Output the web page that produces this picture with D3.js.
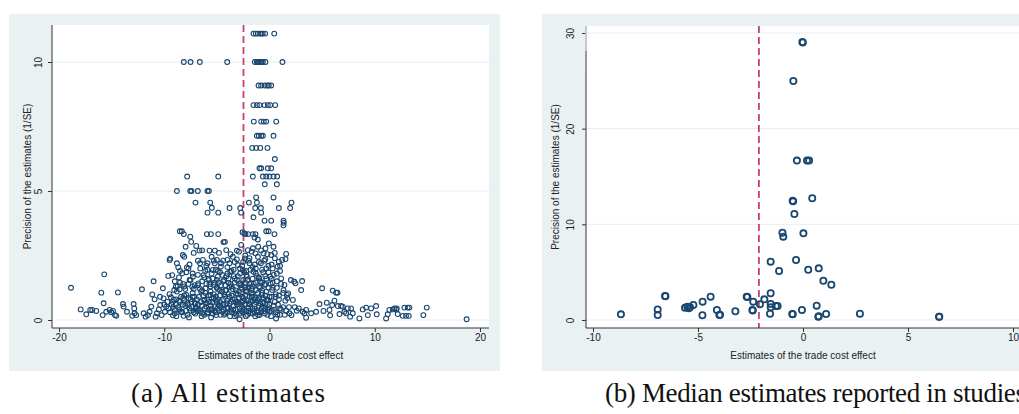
<!DOCTYPE html>
<html>
<head>
    <meta charset="utf-8">
    <title>Funnel plots</title>
    <script src="https://cdn.jsdelivr.net/npm/d3@7"></script>
    <style>
        body { margin: 0; background: #fff; }
        text { font-family: "Liberation Sans", Arial, sans-serif; }
    </style>
</head>
<body>
    <svg width="1019" height="414" id="mainSvg"></svg>
    <script>
        // (a) all estimates: [estimate, precision]
        const allEstimates = [
            // high-precision rows
            [-1.52,11.1],[-1.3,11.1],[-1.11,11.1],[-0.89,11.1],[-0.75,11.1],[-0.63,11.1],[-0.41,11.1],[0.45,11.1],
            [-8.14,10],[-7.5,10],[-6.62,10],[-4.02,10],[-1.39,10],[-1.2,10],[-1.11,10],[-1.0,10],[-0.85,10],[-0.75,10],[-0.63,10],[-0.38,10],[1.23,10],
            [-1.04,9.09],[-0.79,9.09],[-0.45,9.09],[-0.2,9.09],[-0.07,9.09],[0.16,9.09],
            [-1.52,8.33],[-1.2,8.33],[-0.95,8.33],[-0.47,8.33],[-0.16,8.33],[0.07,8.33],[0.54,8.33],
            [-1.49,7.69],[-0.79,7.69],[-0.54,7.69],[-0.31,7.69],[0.64,7.69],
            [-1.21,7.14],[-1.02,7.14],[-0.79,7.14],[-0.63,7.14],[0.38,7.14],
            [-1.64,6.67],[-1.26,6.67],[-0.88,6.67],[-0.19,6.67],
            [0.51,6.24],
            [-0.95,5.88],[-0.79,5.88],[-0.16,5.88],[0.16,5.88],
            [-7.82,5.56],[-4.87,5.56],[-1.58,5.56],[-0.63,5.56],[-0.31,5.56],[0,5.56],[0.38,5.56],[0.73,5.56],
            [-0.45,5.26],[0.7,5.26],
            [-8.8,5],[-7.53,5],[-7.41,5],[-6.81,5],[-5.89,5],[-5.76,5],
            // 3 to 5
            [-7.03,4.55],[-5.63,4.55],[-5.48,4.35],[-5.89,4.16],[-4.87,4.16],[-3.8,4.34],[-2.78,4.34],[-2.69,4.16],
            [-1.96,4.55],[-1.27,4.75],[-1.2,4.55],[-1.36,4.34],[-0.82,4.34],[-0.79,4.16],[-1.52,3.98],[-0.47,3.85],
            [0.16,3.85],[0.38,4.75],[0.89,4.34],[1.96,4.34],[2.09,4.55],[1.33,3.85],[1.35,3.77],[1.33,3.67],
            [0.47,3.33],[-0.31,3.44],[-0.09,3.44],[-8.52,3.44],[-8.33,3.44],[-8.14,3.33],[-7.53,3.23],[-7.44,3.03],
            [-5.95,3.33],[-5.57,3.33],[-4.87,3.33],[-4.24,3.03],[-2.56,3.4],[-2.4,3.35],[-2.28,3.33],[-2.03,3.33],
            [-1.58,3.33],[-1.33,3.33],[-1.42,3.2],[-1.11,3.12],
            // main cloud and tails
            [-18.86,1.25],[-17.94,0.41],[-17.41,0.22],[-17.03,0.39],[-16.84,0.39],[-16.46,0.35],[-15.98,1.06],[-15.85,0.19],
            [-15.76,0.65],[-15.7,1.77],[-15.51,0.32],[-15.19,0.39],[-15.03,0.3],[-14.87,0.35],[-14.68,0.19],[-14.56,0.16],
            [-14.4,1.07],[-13.92,0.62],[-13.86,0.52],[-13.54,0.32],[-13.04,0.16],[-12.91,0.62],[-12.85,0.45],[-12.82,0.26],
            [-12.66,0.19],[-12.12,1.19],[-11.96,0.26],[-11.77,0.13],[-11.55,0.19],[-11.39,0.32],[-11.23,0.52],[-11.14,0.99],
            [-11.01,1.5],[-10.92,0.8],[-10.82,0.13],[-10.7,0.26],[-10.51,0.41],[-10.38,0.58],[-10.25,0.19],[-10.13,1.23],
            [-10.06,0.84],[-9.94,0.32],[-9.81,0.52],[-9.62,1.71],[-9.49,2.33],[-9.43,2.38],[-9.37,0.88],[-9.24,1.74],
            [-9.18,0.18],[-9.05,1.16],[-8.99,0.39],[-8.86,0.8],[-8.73,1.32],[-8.67,2.04],[-8.54,1.19],[-8.42,0.32],
            [-8.29,1.81],[-8.23,2.52],[-8.16,0.16],[-8.1,0.78],[-7.97,2.84],[-7.91,0.97],[-7.85,2.04],[-7.75,0.58],
            [-7.59,1.55],[-7.47,0.36],[-7.34,1.29],[-7.28,1.68],[-7.15,0.9],[-7.03,0.65],[-6.96,2.87],[-6.9,0.45],
            [-6.77,1.42],[-6.65,2.69],[-6.58,2],[-6.49,1.1],[-6.39,0.26],[-6.33,2.33],[-6.27,1.74],[-6.17,0.78],
            [-6.08,1.23],[-6.01,0.52],[-5.89,2.2],[-5.76,1.55],[-5.7,2.69],[-5.6,0.97],[-5.51,0.39],[-5.38,1.94],
            [-5.32,1.36],[-5.19,2.69],[-5.13,0.78],[-5.06,0.19],[-5,2.33],[-4.91,1.68],[-4.81,0.58],[-4.75,1.16],
            [-4.62,2.07],[-4.49,0.32],[-4.37,3.02],[-4.3,1.55],[-4.24,0.9],[-4.11,2.71],[-3.99,2.33],[-3.92,0.45],
            [-3.8,1.29],[-3.73,1.87],[-3.61,0.71],[-3.48,2.45],[-3.35,0.26],[-3.29,1.61],[-3.16,1.03],[-3.1,2.69],
            [-3.01,2.13],[-2.91,0.62],[-2.85,0.03],[-2.78,1.42],[-2.69,2.91],[-2.59,0.9],[-2.53,1.94],[-2.44,0.39],
            [-2.34,2.39],[-2.22,1.16],[-2.15,1.68],[-2.06,2.71],[-1.96,0.65],[-1.9,2.2],[-1.84,0.26],[-1.74,1.42],
            [-1.65,0.97],[-1.58,2.78],[-1.52,1.87],[-1.42,0.45],[-1.33,2.58],[-1.27,1.16],[-1.17,0.78],[-1.08,2.84],
            [-1.01,1.61],[-0.95,0.19],[-0.82,2.2],[-0.76,0.97],[-0.63,0.52],[-0.57,2.58],[-0.47,1.36],[-0.38,2.78],
            [-0.32,2],[-0.19,0.78],[-0.06,2.97],[0,0.32],[0.06,1.68],[0.16,2.52],[0.25,1.16],[0.38,2.84],
            [0.51,2.39],[0.57,0.9],[0.63,0.06],[0.76,2.07],[0.89,2.26],[1.01,0.45],[1.11,1.61],[1.2,2.33],
            [1.33,1.16],[1.42,1.36],[1.52,2.36],[1.58,2.56],[1.65,0.97],[1.77,1.03],[1.9,0.26],[2.03,1.55],
            [2.09,0.19],[2.22,0.78],[2.34,1.49],[2.47,1.42],[2.59,0.36],[2.78,0.45],[3.01,1.16],[3.1,1.51],
            [3.16,0.32],[3.32,0.26],[3.48,0.39],[3.48,0.09],[3.96,0.26],[4.43,0.32],[4.75,0.62],[5,1.23],
            [5.13,0.35],[5.44,0.67],[5.7,0.39],[5.76,0.18],[5.95,0.58],[6.01,1.14],[6.17,0.75],[6.33,1.06],
            [6.46,1.06],[6.49,0.54],[6.65,0.23],[6.8,0.54],[6.96,0.52],[7.12,0.32],[7.28,0.26],[7.44,0.45],
            [7.66,0.13],[7.75,0.45],[7.91,0.26],[8.54,0.06],[8.86,0.41],[9.18,0.48],[9.34,0.19],[9.65,0.45],
            [10.13,0.54],[10.19,0.22],[11.08,0.06],[11.23,0.22],[11.39,0.39],[11.71,0.41],[11.87,0.45],[12.03,0.41],
            [12.09,0.45],[12.18,0.23],[12.66,0.16],[12.82,0.48],[12.97,0.16],[13.13,0.48],[13.23,0.16],[13.29,0.48],
            [14.62,0.19],[14.94,0.48],[18.73,0.03],
            // dense core, bottom band
            [-9.6,0.45],[-9.3,0.6],[-9.0,0.25],[-8.7,0.5],[-8.5,0.7],[-8.3,0.3],[-8.0,0.55],[-7.8,0.2],[-7.6,0.45],
            [-7.4,0.7],[-7.2,0.3],[-7.0,0.5],[-6.8,0.6],[-6.6,0.35],[-6.4,0.55],[-6.2,0.2],[-6.0,0.65],[-5.8,0.4],
            [-5.6,0.55],[-5.4,0.25],[-5.2,0.5],[-5.0,0.7],[-4.8,0.35],[-4.6,0.5],[-4.4,0.6],[-4.2,0.25],[-4.0,0.45],
            [-3.8,0.65],[-3.6,0.3],[-3.4,0.55],[-3.2,0.4],[-3.0,0.7],[-2.8,0.25],[-2.6,0.5],[-2.4,0.6],[-2.2,0.35],
            [-2.0,0.45],[-1.8,0.7],[-1.6,0.25],[-1.4,0.6],[-1.2,0.35],[-1.0,0.55],[-0.8,0.3],[-0.6,0.65],[-0.4,0.45],
            [-0.2,0.2],[0.0,0.6],[0.2,0.35],[0.4,0.55],[0.6,0.3],[0.8,0.6],[1.0,0.2],[1.3,0.5],[1.6,0.35],[2.4,0.5],
            [-9.45,0.3],[-9.15,0.5],[-8.85,0.15],[-8.55,0.4],[-8.25,0.6],[-7.95,0.35],[-7.65,0.1],[-7.35,0.5],[-7.05,0.25],
            [-6.75,0.4],[-6.45,0.15],[-6.15,0.45],[-5.85,0.3],[-5.55,0.1],[-5.25,0.35],[-4.95,0.45],[-4.65,0.2],[-4.35,0.4],
            [-4.05,0.3],[-3.75,0.15],[-3.45,0.4],[-3.15,0.2],[-2.85,0.45],[-2.55,0.3],[-2.25,0.15],[-1.95,0.35],[-1.65,0.45],
            [-1.35,0.15],[-1.05,0.3],[-0.75,0.45],[-0.45,0.25],[-0.15,0.4],[0.15,0.15],[0.45,0.4],[0.75,0.2],[1.1,0.4],
            [1.45,0.2],[1.85,0.5],
            [-5.9,0.25],[-5.7,0.7],[-5.5,0.45],[-5.3,1.0],[-5.1,0.3],[-4.9,0.8],[-4.7,0.55],[-4.5,1.1],[-4.3,0.2],
            [-4.1,0.65],[-3.9,1.0],[-3.7,0.4],[-3.5,0.8],[-3.3,0.15],[-3.1,0.6],[-2.9,1.1],[-2.7,0.35],[-2.5,0.75],
            [-2.3,1.25],[-2.1,0.2],[-1.9,0.6],[-1.7,1.05],[-1.5,0.35],[-1.3,0.85],[-1.1,0.2],[-0.9,0.65],[-0.7,1.05],
            [-0.5,0.35],[-0.3,0.8],[-0.1,0.5],
            [-7.8,0.65],[-7.3,0.9],[-6.9,0.35],[-6.5,0.7],[-6.1,1.05],[-8.2,0.85],[-8.9,0.6],[-9.7,0.7],[-10.0,0.6],[-10.4,0.9],
            // dense core, 0.6 to 1.3
            [-9.5,1.0],[-9.1,0.8],[-8.8,1.1],[-8.4,0.9],[-8.0,1.2],[-7.7,0.85],[-7.3,1.05],[-6.9,0.8],[-6.6,1.2],
            [-6.3,0.95],[-5.9,0.8],[-5.6,1.1],[-5.3,0.85],[-5.0,1.25],[-4.7,0.95],[-4.4,0.8],[-4.1,1.15],[-3.8,0.9],
            [-3.5,1.2],[-3.3,0.8],[-3.0,1.0],[-2.7,1.25],[-2.5,0.85],[-2.2,1.1],[-1.9,0.9],[-1.7,1.2],[-1.4,0.8],
            [-1.1,1.05],[-0.9,1.25],[-0.6,0.85],[-0.3,1.1],[0.0,0.9],[0.3,1.25],[0.6,1.0],[0.9,0.8],[1.3,1.05],[1.7,0.85],
            [-9.2,0.7],[-8.6,0.75],[-8.1,0.95],[-7.5,0.8],[-7.1,0.65],[-6.7,0.9],[-6.2,0.75],[-5.8,0.95],[-5.4,0.7],
            [-5.1,0.9],[-4.7,0.7],[-4.3,1.0],[-4.0,0.75],[-3.6,0.95],[-3.2,0.7],[-2.9,0.85],[-2.6,0.7],[-2.3,0.95],
            [-2.0,0.75],[-1.7,0.9],[-1.3,0.7],[-1.0,0.85],[-0.7,0.7],[-0.4,0.95],[-0.1,0.75],[0.2,0.9],[0.5,0.7],
            [0.9,0.95],[1.5,0.75],
            // dense core, 1 to 2
            [-9.0,1.5],[-8.6,1.65],[-8.2,1.4],[-7.9,1.85],[-7.5,1.55],[-7.1,1.35],[-6.8,1.75],[-6.4,1.5],[-6.1,1.9],
            [-5.7,1.4],[-5.4,1.6],[-5.1,1.95],[-4.8,1.45],[-4.5,1.75],[-4.2,1.35],[-3.9,1.6],[-3.6,1.9],[-3.3,1.45],
            [-3.0,1.7],[-2.7,1.35],[-2.4,1.85],[-2.1,1.55],[-1.8,1.95],[-1.5,1.4],[-1.2,1.7],[-0.9,1.5],[-0.6,1.85],
            [-0.3,1.6],[0.1,1.4],[0.4,1.75],[0.7,1.5],[1.0,1.9],
            [-8.9,1.3],[-8.5,1.45],[-8.1,1.3],[-7.7,1.4],[-7.2,1.2],[-6.8,1.35],[-6.4,1.15],[-6.0,1.4],[-5.6,1.3],
            [-5.2,1.45],[-4.9,1.2],[-4.6,1.35],[-4.2,1.15],[-3.9,1.45],[-3.6,1.3],[-3.2,1.15],[-2.9,1.4],[-2.6,1.2],
            [-2.3,1.45],[-2.0,1.25],[-1.6,1.3],[-1.3,1.45],[-1.0,1.3],[-0.7,1.15],[-0.4,1.4],[-0.1,1.25],[0.3,1.45],
            [0.7,1.25],[1.1,1.4],
            [-5.8,1.6],[-5.5,1.8],[-5.0,1.55],[-4.7,1.85],[-4.4,1.5],[-4.0,1.8],[-3.7,1.4],[-3.4,1.7],[-3.1,1.55],
            [-2.8,2.0],[-2.5,1.55],[-2.2,1.75],[-1.9,1.4],[-1.6,1.6],[-1.3,2.0],[-1.0,1.65],[-0.7,1.45],[-0.4,1.7],
            [-0.1,2.1],[0.2,1.6],
            // dense core, 1.6 to 2.8
            [-8.8,2.2],[-8.1,2.45],[-7.6,2.15],[-7.2,2.6],[-6.8,2.3],[-6.4,2.7],[-6.0,2.1],[-5.5,2.45],[-5.2,2.2],
            [-4.8,2.6],[-4.4,2.3],[-4.0,2.05],[-3.7,2.55],[-3.3,2.25],[-2.9,2.65],[-2.6,2.1],[-2.3,2.5],[-2.0,2.3],
            [-1.7,2.65],[-1.4,2.15],[-1.1,2.45],[-0.8,2.7],[-0.5,2.3],[-0.2,2.55],[0.2,2.15],[0.5,2.6],[1.0,2.1],
            [-8.5,1.9],[-7.7,2.0],[-7.3,1.8],[-6.6,2.2],[-6.2,1.65],[-5.9,1.95],[-5.3,2.3],[-4.9,1.9],[-4.6,2.2],
            [-4.1,1.7],[-3.8,2.2],[-3.4,1.95],[-3.1,2.35],[-2.8,1.8],[-2.5,2.25],[-2.2,1.9],[-1.9,2.4],[-1.6,2.05],
            [-1.3,1.8],[-1.0,2.25],[-0.7,1.95],[-0.4,2.35],[-0.1,1.85],[0.3,2.0],[0.7,1.8]
        ];

        // (b) median estimates reported in studies
        const medianEstimates = [
            [-0.03,29.06],[-0.01,29.0],[-0.46,24.98],[-0.29,16.66],[0.19,16.66],[0.29,16.66],
            [-0.49,12.47],[-0.47,12.4],[0.44,12.72],[-0.41,11.08],[-0.98,9.13],[-0.94,8.71],[0.02,9.06],
            [-1.54,6.1],[-0.33,6.27],[-1.14,5.12],[0.25,5.26],[0.75,5.4],[0.97,4.11],[1.35,3.69],
            [-1.54,2.79],[-6.57,2.51],[-6.55,2.48],[-4.4,2.44],[-2.68,2.44],[-2.65,2.4],[-4.78,1.92],[-2.37,1.92],
            [-1.84,2.16],[-2.05,1.64],[-1.54,1.67],[-1.54,1.32],[-1.21,1.46],[-1.29,1.46],[-5.22,1.57],
            [-5.62,1.29],[-5.51,1.39],[-5.44,1.22],[-5.38,1.32],[-6.92,1.11],[-6.92,0.52],[-8.67,0.59],
            [-4.79,0.49],[-4.1,1.05],[-3.98,0.52],[-3.95,0.55],[-3.22,0.91],[-2.41,1.05],[-2.39,1.0],[-1.57,0.66],
            [-0.51,0.63],[-0.49,0.6],[-0.05,1.05],[0.65,1.5],[0.73,0.35],[0.75,0.38],[1.1,0.63],[2.71,0.66],
            [6.48,0.35],[6.49,0.33]
        ];

        const leftXTicks = [-20, -10, 0, 10, 20];
        const leftYTicks = [0, 5, 10];
        const rightXTicks = [-10, -5, 0, 5, 10];
        const rightYTicks = [0, 10, 20, 30];
        const leftMean = -2.47;
        const rightMean = -2.1;

        const xTitle = "Estimates of the trade cost effect";
        const yTitle = "Precision of the estimates (1/SE)";

        const navy = "#1a476f";
        const panelBg = "#e9f1f3";
        const svg = d3.select("#mainSvg");

        function drawPanel(p) {
            const g = svg.append("g");
            // outer graph region
            g.append("rect").attr("x", p.bg[0]).attr("y", p.bg[1])
                .attr("width", p.bg[2]).attr("height", p.bg[3]).attr("fill", panelBg);
            // plot region
            g.append("rect").attr("x", p.plot[0]).attr("y", p.plot[1])
                .attr("width", p.plot[2] - p.plot[0]).attr("height", p.plot[3] - p.plot[1]).attr("fill", "#fff");

            const x = d3.scaleLinear().domain(p.xDom).range(p.xRange);
            const y = d3.scaleLinear().domain(p.yDom).range(p.yRange);

            // grid lines
            g.selectAll(".grid").data(p.yTicks).join("line")
                .attr("x1", p.plot[0]).attr("x2", p.plot[2])
                .attr("y1", d => y(d)).attr("y2", d => y(d))
                .attr("stroke", "#e6eef0").attr("stroke-width", 1);

            // mean line
            g.append("line")
                .attr("x1", x(p.mean)).attr("x2", x(p.mean))
                .attr("y1", p.plot[1]).attr("y2", p.plot[3])
                .attr("stroke", "#c9416f").attr("stroke-width", 1.8)
                .attr("stroke-dasharray", "7,4");

            // markers
            g.selectAll(".pt").data(p.data).join("circle")
                .attr("cx", d => x(d[0])).attr("cy", d => y(d[1]))
                .attr("r", p.r).attr("fill", "none")
                .attr("stroke", navy).attr("stroke-width", p.sw);

            // axes (Stata uses a plain hyphen for negatives)
            const fmt = d => String(d);
            const yAxis = g.append("g").attr("transform", `translate(${p.plot[0]},0)`)
                .call(d3.axisLeft(y).tickValues(p.yTicks).tickFormat(fmt).tickSize(4).tickSizeOuter(0));
            yAxis.select(".domain").attr("d", `M0,${p.plot[1]}V${p.plot[3]}`).attr("stroke", "#333");
            yAxis.selectAll("line").attr("stroke", "#333");
            yAxis.selectAll("text")
                .attr("transform", "rotate(-90)")
                .attr("x", 0).attr("y", -p.yLabOff).attr("dy", 0)
                .style("text-anchor", "middle")
                .style("font-size", "10px").style("font-family", "Liberation Sans, Arial, sans-serif")
                .attr("fill", "#222");

            const xAxis = g.append("g").attr("transform", `translate(0,${p.plot[3]})`)
                .call(d3.axisBottom(x).tickValues(p.xTicks).tickFormat(fmt).tickSize(4).tickPadding(2).tickSizeOuter(0));
            xAxis.select(".domain").attr("d", `M${p.plot[0]},0H${p.plot[2]}`).attr("stroke", "#333");
            xAxis.selectAll("line").attr("stroke", "#333");
            xAxis.selectAll("text")
                .style("font-size", "10px").style("font-family", "Liberation Sans, Arial, sans-serif")
                .attr("fill", "#222");

            // titles
            g.append("text").attr("x", (p.plot[0] + p.titleRight) / 2).attr("y", 359)
                .attr("text-anchor", "middle").style("font-size", "10px").attr("fill", "#222")
                .text(xTitle);
            g.append("text")
                .attr("transform", `translate(${p.yTitleX},${(p.plot[1] + p.plot[3]) / 2}) rotate(-90)`)
                .attr("text-anchor", "middle").style("font-size", "10px").attr("fill", "#222")
                .text(yTitle);

            // caption
            svg.append("text").attr("x", p.capX).attr("y", 402)
                .attr("text-anchor", "start")
                .attr("textLength", p.capLen).attr("lengthAdjust", "spacing")
                .style("font-family", "'Liberation Serif', 'DejaVu Serif', serif")
                .style("font-size", "27px").attr("fill", "#111")
                .text(p.caption);
        }

        drawPanel({
            bg: [9, 14, 491, 357], plot: [52, 25, 489, 328], titleRight: 489,
            xDom: [-20, 20], xRange: [59, 480], yDom: [0, 10], yRange: [320, 62],
            xTicks: leftXTicks, yTicks: leftYTicks, mean: leftMean,
            data: allEstimates, r: 2.4, sw: 1.1, yLabOff: 10, yTitleX: 31,
            caption: "(a) All estimates", capX: 131, capLen: 194
        });

        drawPanel({
            bg: [542, 14, 477, 357], plot: [586, 26, 1019, 328], titleRight: 1020,
            xDom: [-10, 10], xRange: [593, 1013], yDom: [0, 30], yRange: [320, 33],
            xTicks: rightXTicks, yTicks: rightYTicks, mean: rightMean,
            data: medianEstimates, r: 3.1, sw: 1.8, yLabOff: 12, yTitleX: 559,
            caption: "(b) Median estimates reported in studies", capX: 605, capLen: 421
        });

        // stray grey segment on the right y axis, as in the source image
        svg.append("line").attr("x1", 586).attr("x2", 586).attr("y1", 26).attr("y2", 72)
            .attr("stroke", "#fff").attr("stroke-width", 1.5);
        svg.append("line").attr("x1", 586).attr("x2", 586).attr("y1", 26).attr("y2", 72)
            .attr("stroke", "#aaa").attr("stroke-width", 1);
        svg.append("line").attr("x1", 586).attr("x2", 586).attr("y1", 51).attr("y2", 72)
            .attr("stroke", "#999").attr("stroke-width", 2);
    </script>
</body>
</html>
